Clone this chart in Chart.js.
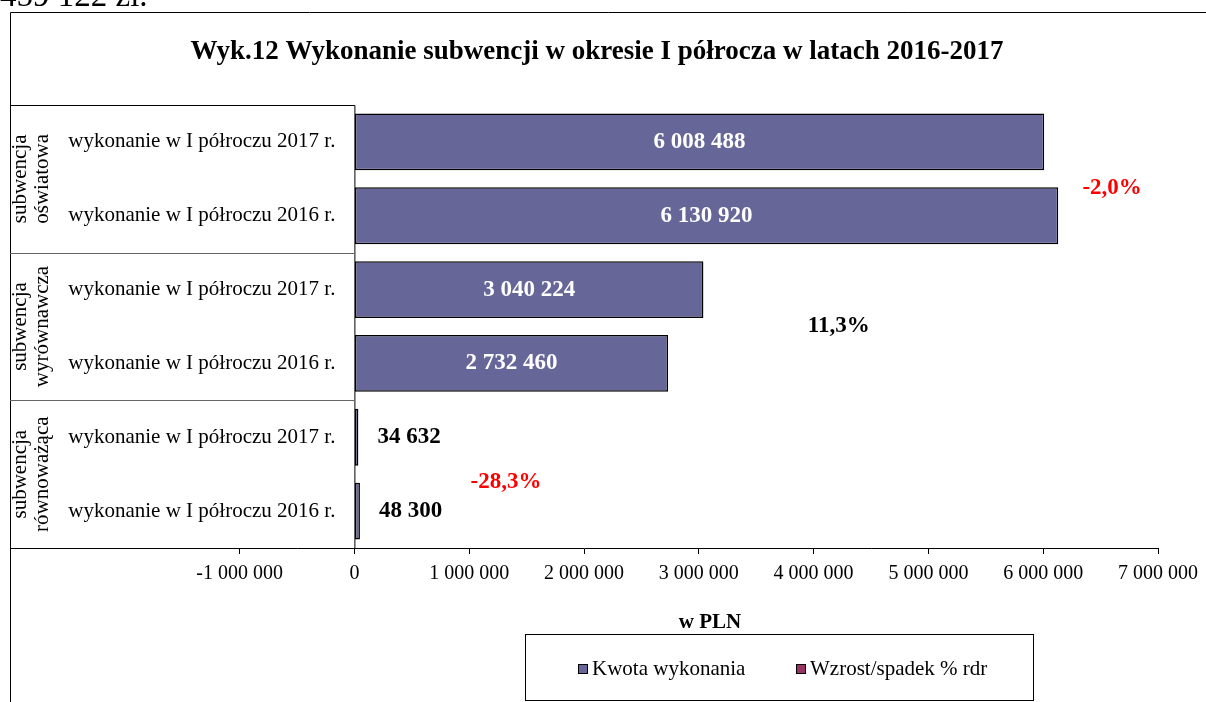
<!DOCTYPE html>
<html>
<head>
<meta charset="utf-8">
<script src="https://cdn.jsdelivr.net/npm/chart.js@4.4.1/dist/chart.umd.min.js"></script>
<style>
  html, body { margin: 0; padding: 0; background: #fff; }
  #wrap { position: relative; width: 1206px; height: 702px; }
</style>
</head>
<body>
<div id="wrap"><canvas id="chart"></canvas></div>
<script>
// ── dane ──
const rowLabels = [
    'wykonanie w I półroczu 2017 r.',
    'wykonanie w I półroczu 2016 r.',
    'wykonanie w I półroczu 2017 r.',
    'wykonanie w I półroczu 2016 r.',
    'wykonanie w I półroczu 2017 r.',
    'wykonanie w I półroczu 2016 r.'
];
const groupLabels = [
    ['subwencja', 'oświatowa'],
    ['subwencja', 'wyrównawcza'],
    ['subwencja', 'równoważąca']
];
const amounts = [6008488, 6130920, 3040224, 2732460, 34632, 48300];
const changePct = [-2.0, 11.3, -28.3];
const seriesNames = ['Kwota wykonania', 'Wzrost/spadek % rdr'];
const xTicks = [-1000000, 0, 1000000, 2000000, 3000000, 4000000, 5000000, 6000000, 7000000];

const TITLE = 'Wyk.12 Wykonanie subwencji w okresie I półrocza w latach 2016-2017';
const SERIF = '"Liberation Serif", "Times New Roman", serif';
const BAR_COLOR = '#666699';
const PCT_COLOR = '#993366';

const fmtNum = v => String(Math.round(v)).replace(/\B(?=(\d{3})+(?!\d))/g, ' ');
const fmtPct = v => v.toFixed(1).replace('.', ',') + '%';

// ramka, tytuł, panel etykiet, etykiety wartości, legenda
const decorPlugin = {
    id: 'decor',
    beforeDraw(chart) {
        const { ctx } = chart;
        ctx.save();
        ctx.fillStyle = '#fff';
        ctx.fillRect(0, 0, chart.width, chart.height);
        ctx.restore();
    },
    afterDraw(chart) {
        const { ctx, chartArea: a, scales: { x, y } } = chart;
        const zero = x.getPixelForValue(0);
        ctx.save();

        // tekst ucięty u góry (z poprzedniej strony)
        ctx.fillStyle = '#000';
        ctx.font = '33px ' + SERIF;
        ctx.textBaseline = 'alphabetic';
        ctx.fillText('459 122 zł.', 0, 6);

        // ramka wykresu
        ctx.strokeStyle = '#000';
        ctx.lineWidth = 1;
        ctx.beginPath();
        ctx.moveTo(10.5, chart.height);
        ctx.lineTo(10.5, 12.5);
        ctx.lineTo(chart.width, 12.5);
        ctx.stroke();

        // tytuł
        ctx.font = 'bold 27px ' + SERIF;
        ctx.textAlign = 'center';
        ctx.textBaseline = 'middle';
        ctx.fillText(TITLE, 597, 52);

        // panel etykiet kategorii (lewa część osi)
        ctx.fillStyle = '#fff';
        ctx.fillRect(a.left + 1, a.top, zero - a.left - 1, a.bottom - a.top - 1);
        ctx.strokeStyle = '#000';
        ctx.beginPath();
        ctx.moveTo(a.left, a.top + 0.5);
        ctx.lineTo(zero + 0.5, a.top + 0.5);
        ctx.lineTo(zero + 0.5, a.bottom);
        ctx.stroke();

        const rowH = y.getPixelForValue(1) - y.getPixelForValue(0);
        ctx.strokeStyle = '#666';
        groupLabels.forEach((g, gi) => {
            const top = y.getPixelForValue(gi * 2) - rowH / 2;
            const bot = y.getPixelForValue(gi * 2 + 1) + rowH / 2;
            if (gi > 0) {
                ctx.beginPath();
                ctx.moveTo(a.left, Math.round(top) + 0.5);
                ctx.lineTo(zero, Math.round(top) + 0.5);
                ctx.stroke();
            }
            ctx.save();
            ctx.translate(a.left + 10, (top + bot) / 2);
            ctx.rotate(-Math.PI / 2);
            ctx.fillStyle = '#000';
            ctx.font = '21px ' + SERIF;
            ctx.textAlign = 'center';
            ctx.textBaseline = 'middle';
            g.forEach((line, li) => ctx.fillText(line, 0, li * 22));
            ctx.restore();
        });

        ctx.fillStyle = '#000';
        ctx.font = '21px ' + SERIF;
        ctx.textAlign = 'right';
        ctx.textBaseline = 'middle';
        rowLabels.forEach((l, i) => ctx.fillText(l, zero - 19, y.getPixelForValue(i)));

        // etykiety wartości słupków
        const meta = chart.getDatasetMeta(0);
        ctx.font = 'bold 23px ' + SERIF;
        meta.data.forEach((bar, i) => {
            const v = amounts[i];
            if (v > 1000000) {
                ctx.fillStyle = '#fff';
                ctx.textAlign = 'center';
                ctx.fillText(fmtNum(v), (bar.base + bar.x) / 2, bar.y);
            } else {
                ctx.fillStyle = '#000';
                ctx.textAlign = 'left';
                ctx.fillText(fmtNum(v), bar.x + 19, bar.y);
            }
        });

        // etykiety zmian % (pozycje ręczne jak w oryginale)
        const pctPos = [[6600000, 0.625], [4220000, 2.49], [1320000, 4.61]];
        ctx.textAlign = 'center';
        changePct.forEach((p, i) => {
            ctx.fillStyle = p < 0 ? '#ff0000' : '#000';
            ctx.fillText(fmtPct(p), x.getPixelForValue(pctPos[i][0]), y.getPixelForValue(pctPos[i][1]));
        });

        // tytuł osi
        ctx.fillStyle = '#000';
        ctx.font = 'bold 21px ' + SERIF;
        ctx.fillText('w PLN', 710, 623);

        // legenda
        const lx = 525, ly = 634, lw = 508, lh = 66;
        ctx.strokeStyle = '#000';
        ctx.strokeRect(lx + 0.5, ly + 0.5, lw, lh);
        ctx.font = '21px ' + SERIF;
        ctx.textAlign = 'left';
        const items = [[578, BAR_COLOR], [796, PCT_COLOR]];
        items.forEach(([ix, col], i) => {
            ctx.fillStyle = col;
            ctx.fillRect(ix, 664, 10, 10);
            ctx.strokeStyle = '#000';
            ctx.strokeRect(ix + 0.5, 664.5, 9, 9);
            ctx.fillStyle = '#000';
            ctx.fillText(seriesNames[i], ix + 14, 669);
        });

        ctx.restore();
    }
};

const ctx = document.getElementById('chart');
new Chart(ctx, {
    type: 'bar',
    data: {
        labels: rowLabels.map((l, i) => i),
        datasets: [{
            label: seriesNames[0],
            data: amounts,
            backgroundColor: BAR_COLOR,
            borderColor: '#000',
            borderWidth: 1.5,
            borderSkipped: false,
            barPercentage: 0.77,
            categoryPercentage: 1
        }]
    },
    options: {
        indexAxis: 'y',
        responsive: true,
        maintainAspectRatio: false,
        animation: false,
        layout: { padding: { left: 10, right: 48, top: 105, bottom: 70 } },
        plugins: {
            legend: { display: false },
            title: { display: false },
            tooltip: { enabled: false }
        },
        scales: {
            x: {
                min: -3000000,
                max: 7000000,
                afterBuildTicks: s => { s.ticks = xTicks.map(v => ({ value: v })); },
                afterFit: s => { s.height = 84; },
                ticks: {
                    color: '#000',
                    font: { family: SERIF, size: 20 },
                    padding: 8,
                    maxRotation: 0,
                    autoSkip: false,
                    callback: v => (v < 0 ? '-' : '') + fmtNum(Math.abs(v))
                },
                grid: { drawOnChartArea: false, drawTicks: true, tickLength: 6, color: '#000' },
                border: { display: true, color: '#000', width: 1 }
            },
            y: {
                display: false,
                offset: true
            }
        }
    },
    plugins: [decorPlugin]
});
</script>
</body>
</html>
